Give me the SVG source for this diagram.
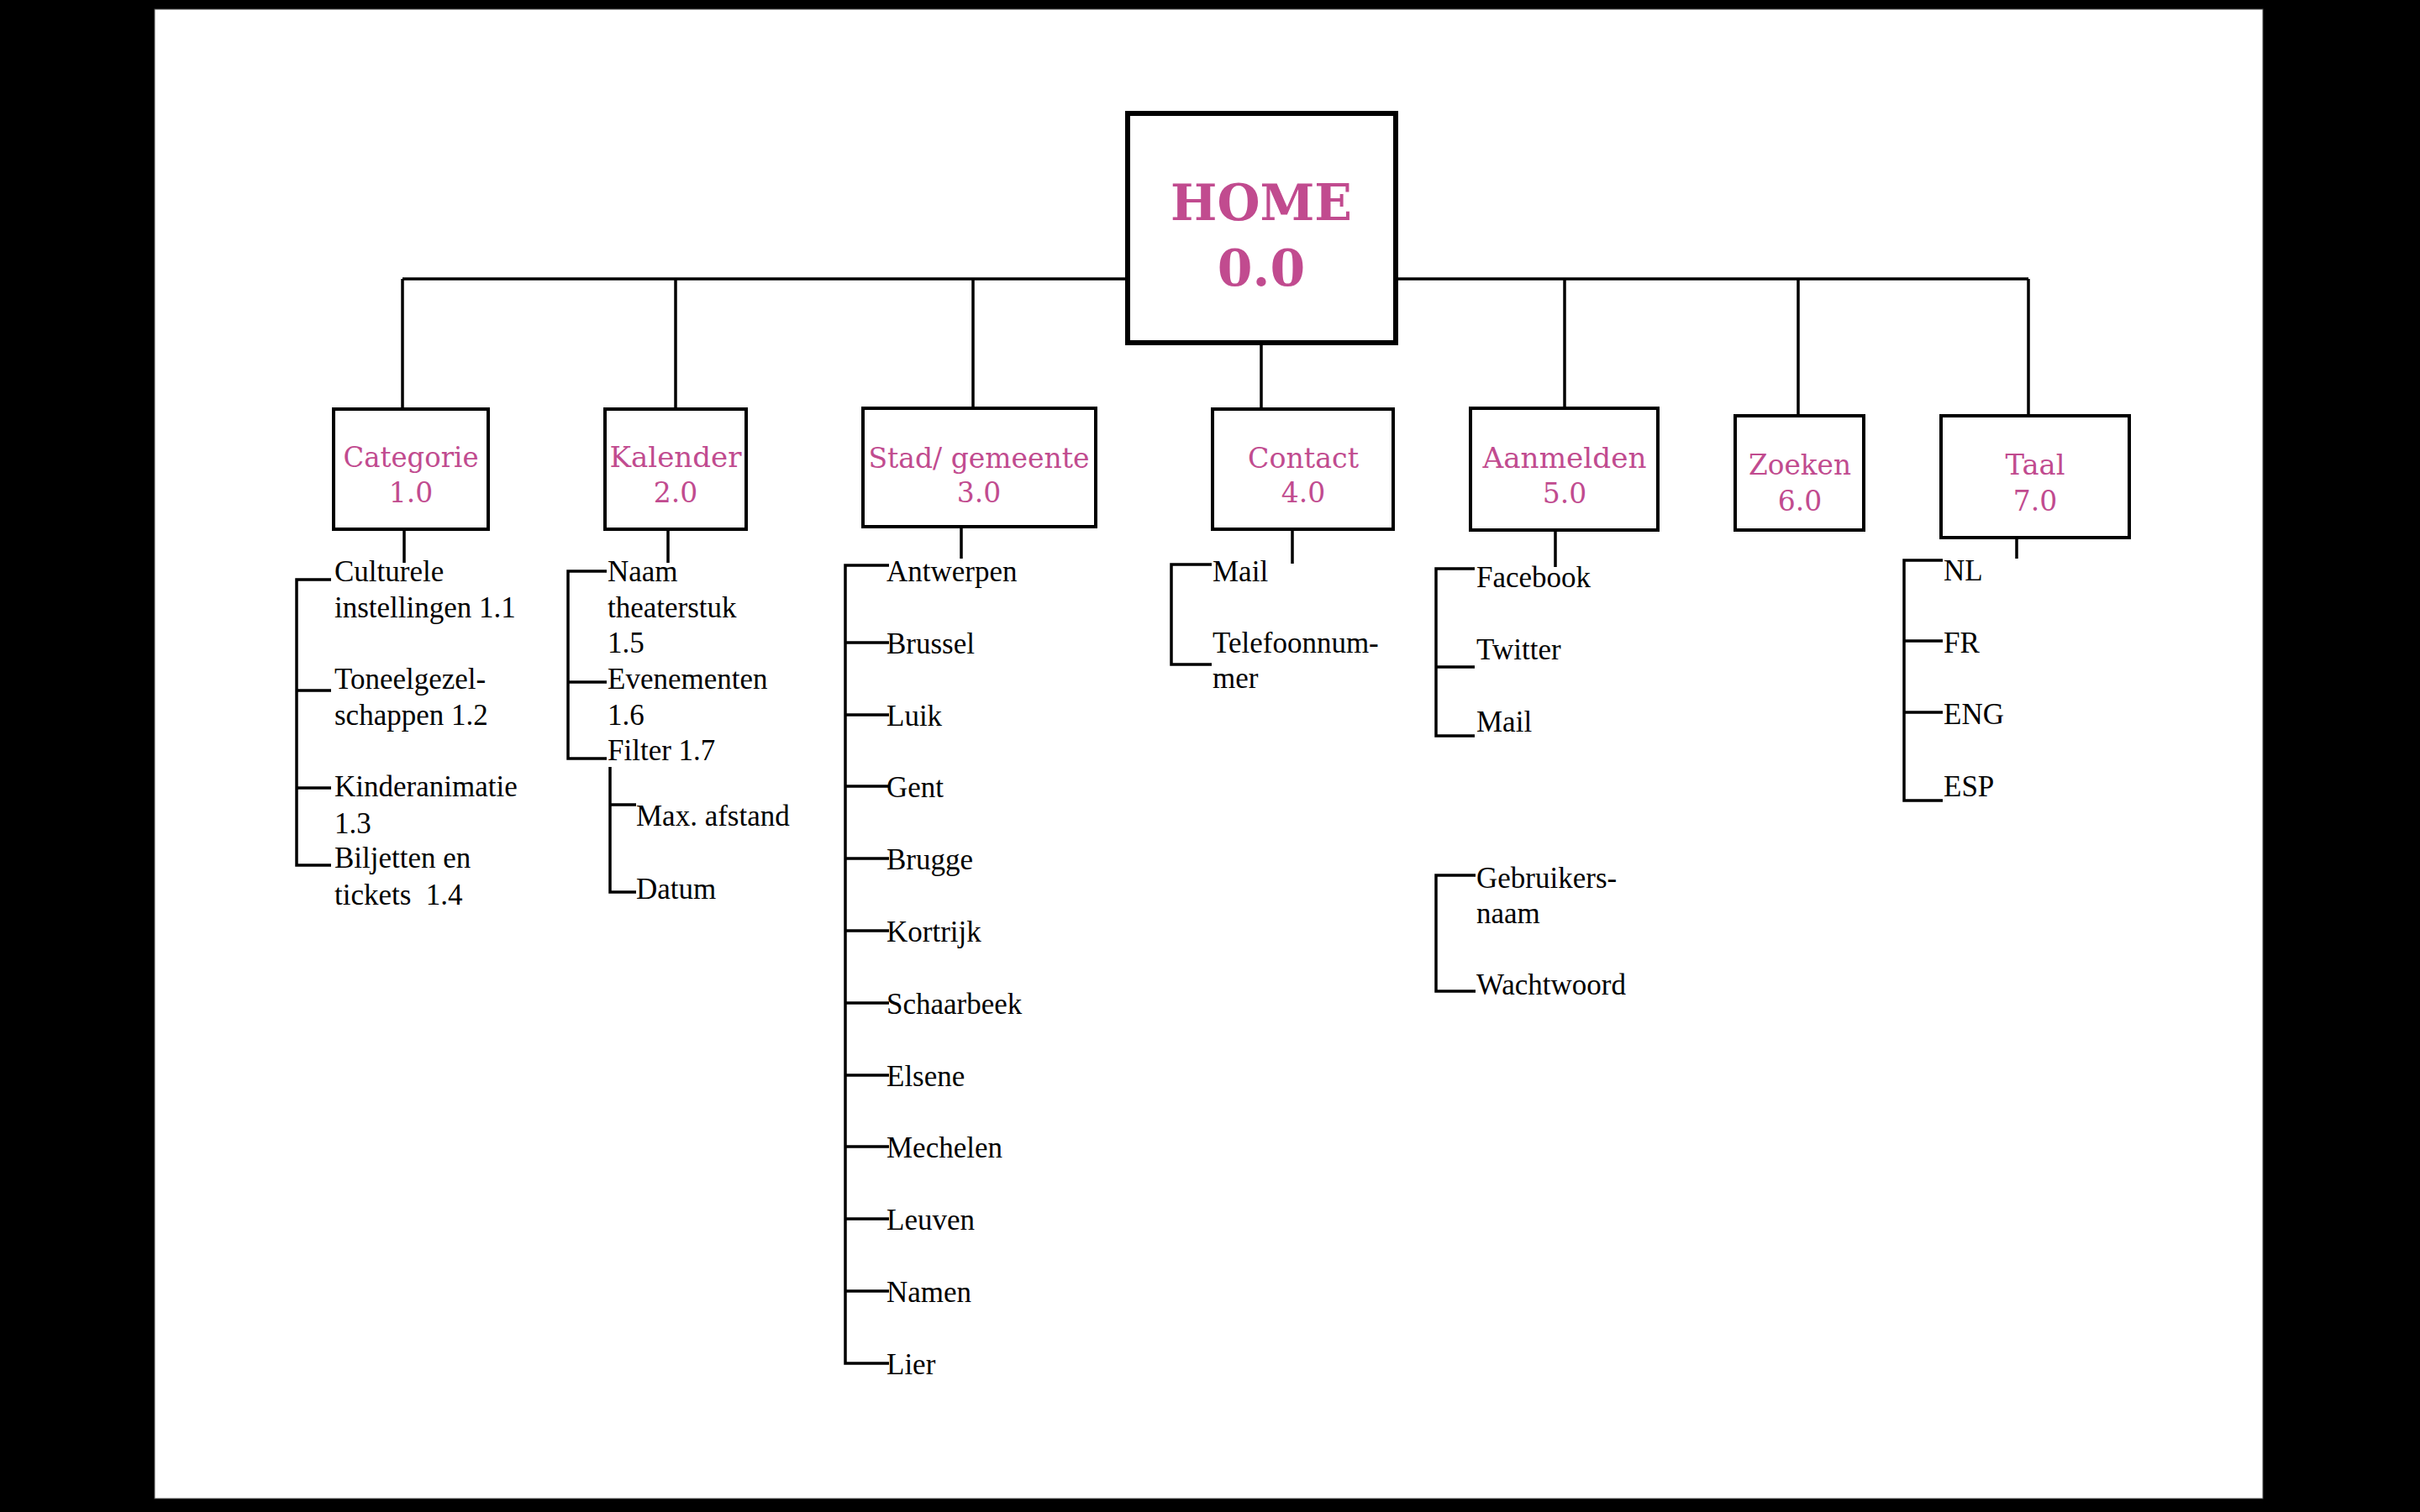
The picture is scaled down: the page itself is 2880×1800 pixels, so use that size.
<svg xmlns="http://www.w3.org/2000/svg" width="2880" height="1800" viewBox="0 0 2880 1800">
<style>
.box{fill:#fff;stroke:#000;stroke-width:4}
.home{fill:#fff;stroke:#000;stroke-width:6}
.ln{stroke:#000;stroke-width:3.5;fill:none}
.lbl{font-family:"DejaVu Serif",serif;font-size:33px;fill:#c14b8f;text-anchor:middle}
.hm{font-family:"DejaVu Serif",serif;font-weight:bold;font-size:60px;fill:#c14b8f;text-anchor:middle}
.it{font-family:"Liberation Serif",serif;font-size:35px;fill:#000}
</style>
<rect x="0" y="0" width="2880" height="1800" fill="#000"/>
<rect x="184" y="11" width="2509" height="1773" fill="#fff" stroke="#555" stroke-width="1"/>
<g id="connectors" class="ln">
<path d="M479,332 H2414"/>
<path d="M479,332 V487 M804,332 V487 M1158,332 V486 M1862,332 V486 M2140,332 V495 M2414,332 V495 M1501,408 V487"/>
<path d="M481,630 V670 M795,630 V670 M1144,627 V665 M1538,630 V671 M1851,631 V675 M2400,640 V665"/>
<path d="M394,690 H353 V1030 H394 M353,822 H394 M353,938 H394"/>
<path d="M722,680 H676 V903 H722 M676,812 H722"/>
<path d="M726,913 V1062 H757 M726,958 H757"/>
<path d="M1058,673 H1006 V1623 H1058 M1006,765 H1058 M1006,851 H1058 M1006,936 H1058 M1006,1022 H1058 M1006,1108 H1058 M1006,1194 H1058 M1006,1280 H1058 M1006,1365 H1058 M1006,1451 H1058 M1006,1537 H1058"/>
<path d="M1442,672 H1394 V791 H1442"/>
<path d="M1755,677 H1709 V876 H1755 M1709,794 H1755"/>
<path d="M1756,1042 H1709 V1180 H1756"/>
<path d="M2312,667 H2266 V953 H2312 M2266,763 H2312 M2266,848 H2312"/>
</g>
<g id="home">
<rect class="home" x="1342" y="135" width="319" height="273"/>
<text class="hm" x="1501" y="262" textLength="216" lengthAdjust="spacingAndGlyphs">HOME</text>
<text class="hm" x="1501" y="340">0.0</text>
</g>
<g id="n1"><rect class="box" x="397" y="487" width="184" height="143"/>
<text class="lbl" x="489" y="556" textLength="161" lengthAdjust="spacingAndGlyphs">Categorie</text><text class="lbl" x="489" y="598">1.0</text></g>
<g id="n2"><rect class="box" x="720" y="487" width="168" height="143"/>
<text class="lbl" x="804" y="556" textLength="157" lengthAdjust="spacingAndGlyphs">Kalender</text><text class="lbl" x="804" y="598">2.0</text></g>
<g id="n3"><rect class="box" x="1027" y="486" width="277" height="141"/>
<text class="lbl" x="1165" y="557" textLength="263" lengthAdjust="spacingAndGlyphs">Stad/ gemeente</text><text class="lbl" x="1165" y="598">3.0</text></g>
<g id="n4"><rect class="box" x="1443" y="487" width="215" height="143"/>
<text class="lbl" x="1551" y="557" textLength="132" lengthAdjust="spacingAndGlyphs">Contact</text><text class="lbl" x="1551" y="598">4.0</text></g>
<g id="n5"><rect class="box" x="1750" y="486" width="223" height="145"/>
<text class="lbl" x="1862" y="557" textLength="195" lengthAdjust="spacingAndGlyphs">Aanmelden</text><text class="lbl" x="1862" y="599">5.0</text></g>
<g id="n6"><rect class="box" x="2065" y="495" width="153" height="136"/>
<text class="lbl" x="2142" y="565" textLength="122" lengthAdjust="spacingAndGlyphs">Zoeken</text><text class="lbl" x="2142" y="608">6.0</text></g>
<g id="n7"><rect class="box" x="2310" y="495" width="224" height="145"/>
<text class="lbl" x="2422" y="565" textLength="71" lengthAdjust="spacingAndGlyphs">Taal</text><text class="lbl" x="2422" y="608">7.0</text></g>
<g id="items1" class="it">
<text x="398" y="692">Culturele</text><text x="398" y="735">instellingen 1.1</text>
<text x="398" y="820">Toneelgezel-</text><text x="398" y="863">schappen 1.2</text>
<text x="398" y="948">Kinderanimatie</text><text x="398" y="992">1.3</text>
<text x="398" y="1033">Biljetten en</text><text x="398" y="1077" xml:space="preserve">tickets  1.4</text>
</g>
<g id="items2" class="it">
<text x="723" y="692">Naam</text><text x="723" y="735">theaterstuk</text><text x="723" y="777">1.5</text>
<text x="723" y="820">Evenementen</text><text x="723" y="863">1.6</text>
<text x="723" y="905">Filter 1.7</text>
<text x="757" y="983">Max. afstand</text>
<text x="757" y="1070">Datum</text>
</g>
<g id="items3" class="it">
<text x="1055" y="692">Antwerpen</text>
<text x="1055" y="778">Brussel</text>
<text x="1055" y="864">Luik</text>
<text x="1055" y="949">Gent</text>
<text x="1055" y="1035">Brugge</text>
<text x="1055" y="1121">Kortrijk</text>
<text x="1055" y="1207">Schaarbeek</text>
<text x="1055" y="1293">Elsene</text>
<text x="1055" y="1378">Mechelen</text>
<text x="1055" y="1464">Leuven</text>
<text x="1055" y="1550">Namen</text>
<text x="1055" y="1636">Lier</text>
</g>
<g id="items4" class="it">
<text x="1443" y="692">Mail</text>
<text x="1443" y="777">Telefoonnum-</text><text x="1443" y="819">mer</text>
</g>
<g id="items5" class="it">
<text x="1757" y="699">Facebook</text>
<text x="1757" y="785">Twitter</text>
<text x="1757" y="871">Mail</text>
<text x="1757" y="1057">Gebruikers-</text><text x="1757" y="1099">naam</text>
<text x="1757" y="1184">Wachtwoord</text>
</g>
<g id="items7" class="it">
<text x="2313" y="691">NL</text>
<text x="2313" y="777">FR</text>
<text x="2313" y="862">ENG</text>
<text x="2313" y="948">ESP</text>
</g>
</svg>
